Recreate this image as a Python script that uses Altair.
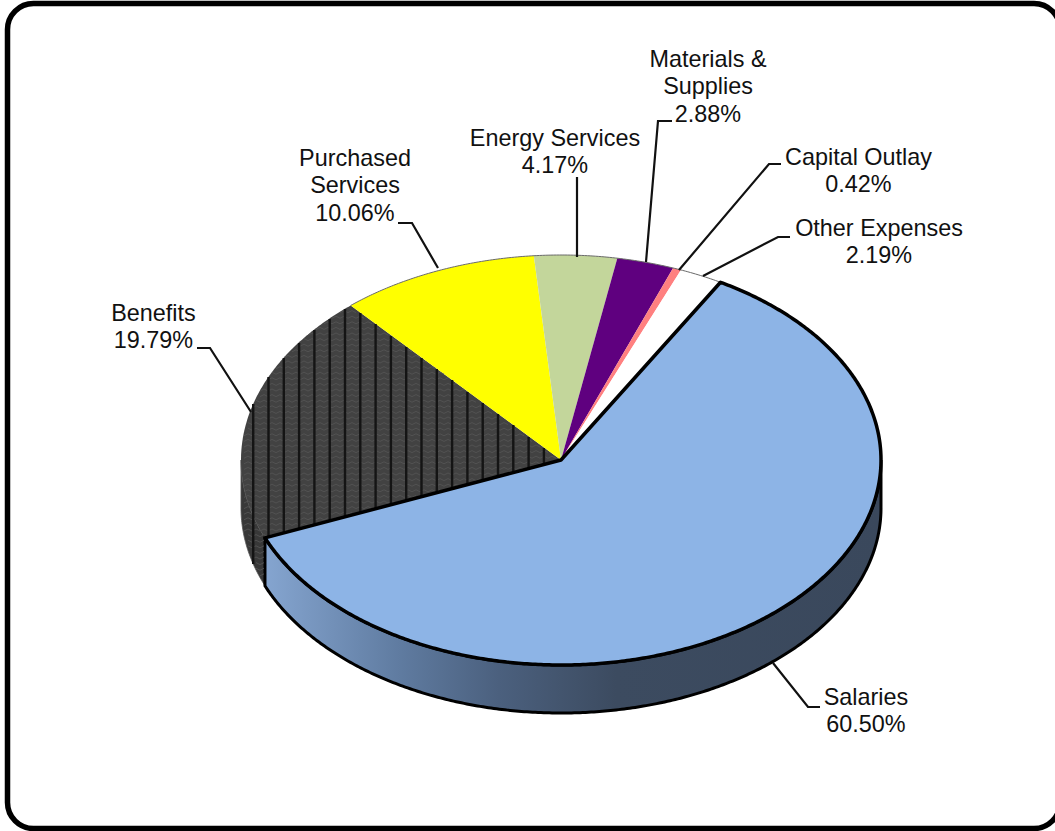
import math
import altair as alt

# Budget shares, clockwise from the Salaries slice
categories = ["Salaries", "Benefits", "Purchased Services", "Energy Services",
              "Materials & Supplies", "Capital Outlay", "Other Expenses"]
shares = [60.50, 19.79, 10.06, 4.17, 2.88, 0.42, 2.19]
slice_colors = ["#8DB4E6", "#424242", "#FFFF00", "#C3D69B", "#5F007F", "#FF8080", "#FFFFFF"]
label_lines = [["Salaries", "60.50%"], ["Benefits", "19.79%"],
               ["Purchased", "Services", "10.06%"], ["Energy Services", "4.17%"],
               ["Materials &", "Supplies", "2.88%"], ["Capital Outlay", "0.42%"],
               ["Other Expenses", "2.19%"]]

# Placement of the tilted disc on the page
CX, CY, RX, RY, DEPTH = 561.0, 460.0, 320.0, 205.0, 48.0
START = 29.9

# Label anchors (centre x, first baseline y) and leader-line paths
label_xy = [(866, 705), (153.5, 321), (355, 166), (555, 146), (708, 67), (858.5, 165), (879, 236)]
leaders = [
    [(773, 663), (808, 707), (820, 707)],
    [(251, 412), (210, 348), (197, 348)],
    [(438, 268), (412, 223), (398, 223)],
    [(577, 257), (577, 177)],
    [(646, 262), (658, 121), (672, 121)],
    [(679, 270), (769, 164), (781, 164)],
    [(703, 276), (778, 237), (790, 237)],
]


def rim(deg, drop=0.0):
    a = math.radians(deg)
    return [CX + RX * math.sin(a), CY - RY * math.cos(a) + drop]


def arc(a0, a1, drop=0.0):
    n = max(2, int(abs(a1 - a0) * 2))
    return [rim(a0 + (a1 - a0) * i / n, drop) for i in range(n + 1)]


def polygon(points, **props):
    return {"type": "Feature", "properties": props,
            "geometry": {"type": "Polygon", "coordinates": [points + [points[0]]]}}


def line(points, **props):
    return {"type": "Feature", "properties": props,
            "geometry": {"type": "LineString", "coordinates": [list(p) for p in points]}}


# Cumulative angles for each slice
total = sum(shares)
edges = [START]
for s in shares:
    edges.append(edges[-1] + s / total * 360)

sectors = [polygon([[CX, CY]] + arc(edges[i], edges[i + 1]), color=slice_colors[i], name=categories[i])
           for i in range(len(shares))]

sal_a0, sal_a1 = edges[0], edges[1]
ben_a0, ben_a1 = edges[1], edges[2]
sal_wall = polygon(arc(90, sal_a1) + arc(sal_a1, 90, DEPTH))
ben_wall = polygon(arc(sal_a1, 270) + arc(270, sal_a1, DEPTH))
sal_edge_x = rim(sal_a1)[0]


def in_benefits(x, y):
    u, v = (x - CX) / RX, (CY - y) / RY
    r2 = u * u + v * v
    if r2 <= 1 and ben_a0 <= math.degrees(math.atan2(u, v)) % 360 <= ben_a1:
        return True
    if rim(270)[0] <= x <= sal_edge_x and u * u < 1:
        low = CY + RY * math.sqrt(1 - u * u)
        return low <= y <= low + DEPTH
    return False


# Vertical bars and faint wavy rows of the Benefits fill
bars, waves = [], []
x = 253.2
while x < 560:
    ys = [y for y in range(250, 600) if in_benefits(x, y)]
    if ys:
        bars.append(line([(x, ys[0]), (x, ys[-1])]))
    x += 15.3
y = 306.0
while y < 600:
    run, px = [], 240.0
    while px < 560:
        wy = y + (1.0 if int(px / 4) % 2 else -1.0)
        if in_benefits(px, wy):
            run.append((px, wy))
        elif len(run) > 1:
            waves.append(line(run))
            run = []
        else:
            run = []
        px += 4
    if len(run) > 1:
        waves.append(line(run))
    y += 5.6

leader_features = [line(p) for p in leaders]
sal_outline = polygon([[CX, CY]] + arc(sal_a0, sal_a1))

text_rows = []
for lines, (tx, ty) in zip(label_lines, label_xy):
    for k, t in enumerate(lines):
        text_rows.append({"t": t, "x": tx, "y": ty + k * 27.3})


def shapes(features):
    return alt.Chart(alt.Data(values=features)).project(type="identity", scale=1, translate=[0, 0])


frame = alt.Chart(alt.Data(values=[{"a": 1}])).mark_rect(
    fill="white", stroke="black", strokeWidth=5.5, cornerRadius=26
).encode(x=alt.value(7.5), x2=alt.value(1060), y=alt.value(3.5), y2=alt.value(828.5))

sal_wall_layer = shapes([sal_wall]).mark_geoshape(
    fill=alt.LinearGradient(
        gradient="linear", x1=0, x2=1, y1=0, y2=0,
        stops=[alt.GradientStop(offset=0, color="#85A5D0"),
               alt.GradientStop(offset=0.22, color="#5F7BA0"),
               alt.GradientStop(offset=0.38, color="#4B607E"),
               alt.GradientStop(offset=0.57, color="#3C4B60"),
               alt.GradientStop(offset=1, color="#3A485C")]),
    stroke="black", strokeWidth=3)
ben_wall_layer = shapes([ben_wall]).mark_geoshape(fill="#383838", stroke="#555555", strokeWidth=0.8)
sector_layer = shapes(sectors).mark_geoshape(strokeWidth=0).encode(
    fill=alt.Color("properties.color:N", scale=None, legend=None))
rim_layer = shapes([line(arc(edges[2], edges[7]))]).mark_geoshape(
    filled=False, stroke="#6A6A6A", strokeWidth=1)
wave_layer = shapes(waves).mark_geoshape(filled=False, stroke="#545454", strokeWidth=0.9)
bar_layer = shapes(bars).mark_geoshape(filled=False, stroke="#141414", strokeWidth=2.4)
outline_layer = shapes([sal_outline]).mark_geoshape(
    fill="#8DB4E6", stroke="black", strokeWidth=3.5, strokeJoin="round")
leader_layer = shapes(leader_features).mark_geoshape(filled=False, stroke="#111111", strokeWidth=2.2)
text_layer = alt.Chart(alt.Data(values=text_rows)).mark_text(
    font="Liberation Sans", fontSize=23.4, color="#111111", align="center", baseline="alphabetic"
).encode(x=alt.X("x:Q", scale=None), y=alt.Y("y:Q", scale=None), text="t:N")

chart = alt.layer(
    frame, ben_wall_layer, sal_wall_layer, sector_layer, rim_layer, wave_layer, bar_layer,
    outline_layer, leader_layer, text_layer
).properties(
    width=1055, height=831, padding=0, autosize=alt.AutoSizeParams(type="none"), background="white"
).configure_view(stroke=None)

chart.save("out.html", embed_options={"renderer": "svg", "actions": False})
